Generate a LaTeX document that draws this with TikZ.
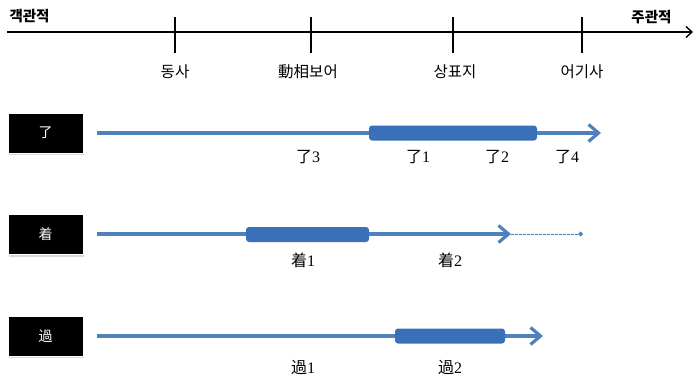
\documentclass[tikz,border=0pt]{standalone}
\usepackage{fontspec}
\setmainfont{Liberation Serif}
\newfontfamily\krfont{Noto Sans CJK KR}
\newfontfamily\zhfont{Noto Sans CJK SC}
\usetikzlibrary{arrows.meta,shapes.geometric,shadows}
\definecolor{lblue}{RGB}{79,129,189}
\definecolor{dblue}{RGB}{58,112,185}
\tikzset{
  axlab/.style={font=\krfont\fontsize{15.5}{16}\selectfont},
  axlabb/.style={font=\krfont\bfseries\fontsize{14.5}{15}\selectfont},
  tickline/.style={line width=1.6pt},
  tagbox/.style={fill=black,draw=white,line width=1pt,minimum width=75pt,minimum height=40pt,text=white,font=\zhfont\fontsize{14}{14}\selectfont,drop shadow={shadow xshift=1pt,shadow yshift=-2pt,opacity=0.3}},
  thinln/.style={draw=lblue,line width=3.5pt},
  arr/.style={thinln,-{Straight Barb[length=10pt,width=17pt,line width=3.2pt]}},
  bar/.style={fill=dblue,rounded corners=3pt},
  mk/.style={font=\fontsize{16}{16}\selectfont}
}
\begin{document}
\begin{tikzpicture}[x=1pt,y=-1pt]
\useasboundingbox (0,0) rectangle (694,380);
% axis
\coordinate (a0) at (7,32);
\coordinate (a1) at (693,32);
\draw[line width=1.6pt,-{Straight Barb[length=6pt,width=11pt,line width=1.4pt]}] (a0) -- (a1);
\foreach \n/\x in {t1/175,t2/311,t3/453,t4/582}{
  \coordinate (\n top) at (\x,17);
  \coordinate (\n bot) at (\x,53);
  \draw[tickline] (\n top) -- (\n bot);
}
\node[axlabb,anchor=west] (obj) at (6,16) {객관적};
\node[axlabb,anchor=east] (subj) at (675,17) {주관적};
\node[axlab] (l1) at (175,72) {동사};
\node[axlab] (l2) at (308,72) {{\zhfont 動相}보어};
\node[axlab] (l3) at (455,72) {상표지};
\node[axlab] (l4) at (582,72) {어기사};
% row 1
\node[tagbox] (b1) at (45.5,133) {了};
\coordinate (r1s) at (97,133);
\coordinate (r1e) at (601,133);
\coordinate (r1a) at (369,125.5);
\coordinate (r1b) at (537,140.5);
\draw[arr] (r1s) -- (r1e);
\fill[bar] (r1a) rectangle (r1b);
\node[mk] (le3) at (308,157) {{\zhfont 了}3};
\node[mk] (le1) at (418,157) {{\zhfont 了}1};
\node[mk] (le2) at (497,157) {{\zhfont 了}2};
\node[mk] (le4) at (567,157) {{\zhfont 了}4};
% row 2
\node[tagbox] (b2) at (45.5,234.5) {着};
\coordinate (r2s) at (97,234);
\coordinate (r2e) at (511,234);
\coordinate (r2a) at (246,227);
\coordinate (r2b) at (369,242);
\coordinate (r2d) at (583,234);
\draw[arr] (r2s) -- (r2e);
\fill[bar] (r2a) rectangle (r2b);
\draw[lblue,line width=0.9pt,dash pattern=on 2.5pt off 1.5pt,-{Diamond[length=5pt,width=5pt]}] (r2e) -- (r2d);
\node[mk] (zh1) at (303,260) {{\zhfont 着}1};
\node[mk] (zh2) at (450,260) {{\zhfont 着}2};
% row 3
\node[tagbox] (b3) at (45.5,336) {過};
\coordinate (r3s) at (97,336);
\coordinate (r3e) at (543,336);
\coordinate (r3a) at (395,328.5);
\coordinate (r3b) at (505,343.5);
\draw[arr] (r3s) -- (r3e);
\fill[bar] (r3a) rectangle (r3b);
\node[mk] (gu1) at (303,367) {{\zhfont 過}1};
\node[mk] (gu2) at (450,367) {{\zhfont 過}2};
\end{tikzpicture}
\end{document}
